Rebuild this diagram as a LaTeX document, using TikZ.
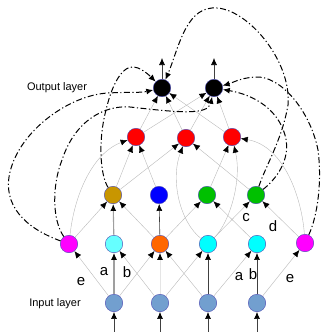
\documentclass[tikz,border=0pt]{standalone}
\usepackage{fontspec}
\setmainfont{Liberation Sans}
\usetikzlibrary{arrows.meta}

\definecolor{inputblue}{HTML}{729FCF}
\definecolor{pinkn}{HTML}{FF00FF}
\definecolor{paleblue}{HTML}{66FFFF}
\definecolor{orangen}{HTML}{FF6600}
\definecolor{cyann}{HTML}{00FFFF}
\definecolor{goldn}{HTML}{C89600}
\definecolor{bluen}{HTML}{0000FF}
\definecolor{greenn}{HTML}{00C000}
\definecolor{redn}{HTML}{FF0000}

\tikzset{
   neuron/.style={
     circle, draw=blue!40!gray, line width=0.4pt,
     minimum size=17.5pt, inner sep=0pt
   },
   headtip/.style={-{Latex[length=7pt,width=6pt,color=black]}},
   link/.style={headtip, draw=gray!55, line width=0.4pt},
   thicklink/.style={link, draw=gray!75, line width=1.1pt},
   darklink/.style={link, draw=black!75, line width=0.6pt},
   faintlink/.style={link, draw=gray!20, line width=0.8pt},
   feedback/.style={
      headtip, black, line width=1pt,
      dash pattern=on 6pt off 2.5pt on 1.2pt off 2.5pt
   },
   layertext/.style={font=\fontsize{11}{13}\selectfont},
   edgetext/.style={font=\fontsize{15}{18}\selectfont}
}

\begin{document}
\begin{tikzpicture}[x=1pt,y=-1pt]
   \useasboundingbox (0,0) rectangle (322,332);

   % input layer
   \node[neuron,fill=inputblue](i1) at (114,303) {};
   \node[neuron,fill=inputblue](i2) at (160,303) {};
   \node[neuron,fill=inputblue](i3) at (208,303) {};
   \node[neuron,fill=inputblue](i4) at (257,303) {};

   % first hidden layer
   \node[neuron,fill=pinkn](h1) at (69,244) {};
   \node[neuron,fill=paleblue](h2) at (114,244) {};
   \node[neuron,fill=orangen](h3) at (160,244) {};
   \node[neuron,fill=cyann](h4) at (208,244) {};
   \node[neuron,fill=cyann](h5) at (257,244) {};
   \node[neuron,fill=pinkn](h6) at (305,243) {};

   % second hidden layer
   \node[neuron,fill=goldn](g1) at (113,195) {};
   \node[neuron,fill=bluen](g2) at (159,195) {};
   \node[neuron,fill=greenn](g3) at (207,195) {};
   \node[neuron,fill=greenn](g4) at (256,195) {};

   % third hidden layer
   \node[neuron,fill=redn](r1) at (136,137) {};
   \node[neuron,fill=redn](r2) at (186,138) {};
   \node[neuron,fill=redn](r3) at (232,137) {};

   % output layer
   \node[neuron,fill=black](o1) at (162,88) {};
   \node[neuron,fill=black](o2) at (214,88) {};

   \node[layertext](outlabel) at (57,88) {Output layer};
   \node[layertext](inlabel) at (55,304) {Input layer};

   % signals in and out
   \coordinate (i1in) at (114,334);
   \coordinate (i2in) at (160,334);
   \coordinate (i3in) at (208,334);
   \coordinate (i4in) at (257,334);
   \coordinate (o1out) at (162,58);
   \coordinate (o2out) at (214,58);
   \draw[darklink] (i1in) -- (i1);
   \draw[darklink] (i2in) -- (i2);
   \draw[darklink] (i3in) -- (i3);
   \draw[darklink] (i4in) -- (i4);
   \draw[darklink] (o1) -- (o1out);
   \draw[darklink] (o2) -- (o2out);

   % input -> first hidden
   \draw[link] (i1) edge (h1) edge (h3);
   \draw[thicklink] (i1) -- (h2);
   \draw[link] (i2) edge (h2) edge (h4);
   \draw[faintlink] (i2) -- (h3);
   \draw[link] (i3) edge (h3) edge (h5);
   \draw[darklink] (i3) -- (h4);
   \draw[link] (i4) edge (h6);
   \draw[darklink] (i4) -- (h5);

   % first -> second hidden
   \draw[link] (h1) edge (g1);
   \draw[thicklink] (h2) -- (g1);
   \draw[link] (h3) edge (g1) edge (g3);
   \draw[darklink] (h3) -- (g2);
   \draw[link] (h4) edge (g4);
   \draw[link] (h5) edge (g3);
   \draw[link] (h6) edge (g4);

   % skip connections
   \draw[link] (h1) .. controls (75,190) and (95,152) .. (r1);
   \draw[link] (h4) .. controls (180,222) and (170,180) .. (r2);
   \draw[link] (h4) .. controls (230,222) and (242,180) .. (r3);
   \draw[link] (h6) .. controls (302,200) and (285,146) .. (r3);

   % second -> third hidden
   \draw[link] (g1) edge (r1) edge (r2);
   \draw[link] (g2) edge (r1);
   \draw[link] (g3) edge (r3);
   \draw[link] (g4) edge (r2);

   % third -> output
   \draw[link] (r1) edge (o1) edge (o2);
   \draw[link] (r2) edge (o1) edge (o2);
   \draw[link] (r3) edge (o1) edge (o2);

   % recurrent paths
   \draw[feedback] (h1) .. controls (25,228) and (2,205) .. (10,172)
      .. controls (20,130) and (70,95) .. (108,93)
      .. controls (125,92) and (140,93) .. (o1);
   \draw[feedback] (h1) .. controls (52,220) and (52,185) .. (62,160)
      .. controls (75,120) and (105,105) .. (130,107)
      .. controls (175,112) and (208,116) .. (o2);
   \draw[feedback] (g1) .. controls (100,175) and (98,140) .. (106,110)
      .. controls (113,80) and (125,62) .. (138,68)
      .. controls (145,71) and (150,76) .. (o1);
   \draw[feedback] (g4) .. controls (266,165) and (282,140) .. (288,105)
      .. controls (292,60) and (245,5) .. (212,8)
      .. controls (185,10) and (178,50) .. (o1);
   \draw[feedback] (g4) .. controls (275,180) and (292,160) .. (285,135)
      .. controls (278,110) and (255,95) .. (o2);
   \draw[feedback] (h6) .. controls (318,215) and (322,180) .. (318,150)
      .. controls (310,110) and (280,75) .. (255,77)
      .. controls (240,78) and (232,83) .. (o2);

   % weight labels
   \node[edgetext](le1) at (81,282) {e};
   \node[edgetext](la1) at (104,272) {a};
   \node[edgetext](lb1) at (127,272) {b};
   \node[edgetext](la2) at (239,277) {a};
   \node[edgetext](lb2) at (253,274) {b};
   \node[edgetext](le2) at (290,279) {e};
   \node[edgetext](lc) at (246,218) {c};
   \node[edgetext](ld) at (273,226) {d};
\end{tikzpicture}
\end{document}
